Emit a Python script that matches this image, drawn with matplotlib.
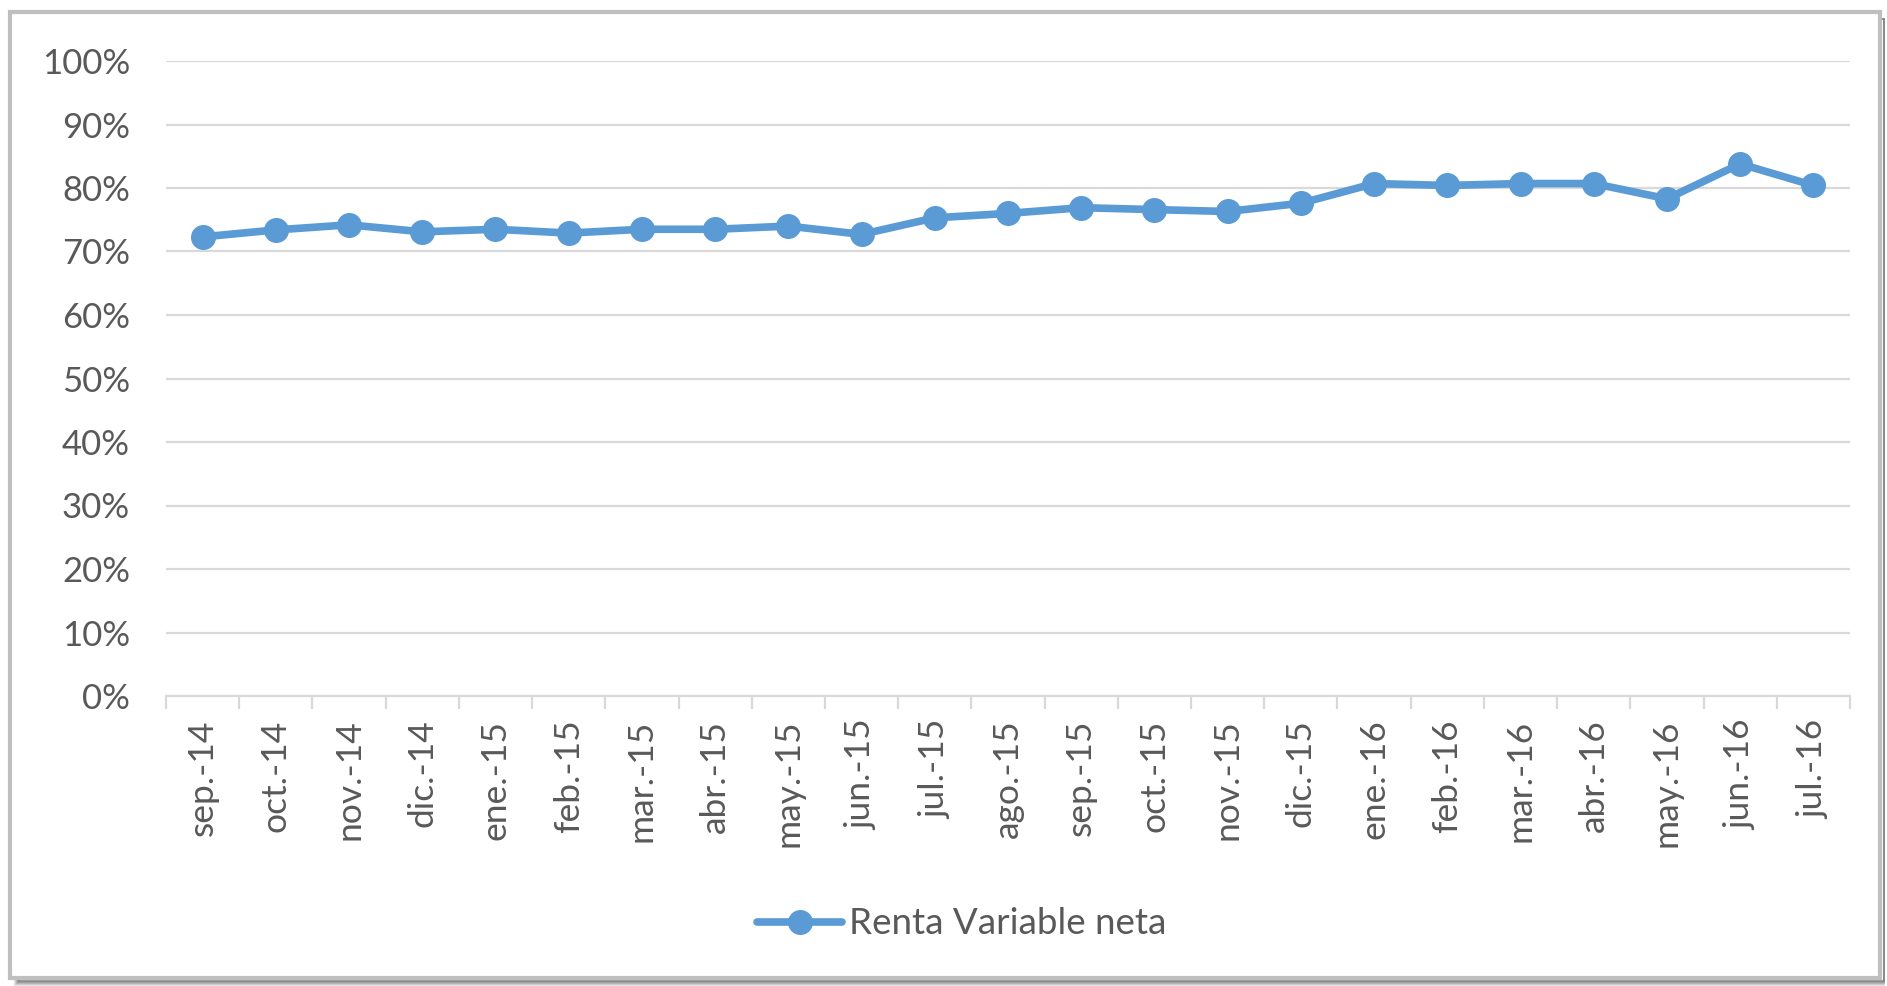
import numpy as np
import matplotlib
matplotlib.use('Agg')
import matplotlib.pyplot as plt
from matplotlib.patches import Rectangle
from matplotlib.ticker import FixedLocator, PercentFormatter

months = ['sep.-14', 'oct.-14', 'nov.-14', 'dic.-14', 'ene.-15', 'feb.-15',
          'mar.-15', 'abr.-15', 'may.-15', 'jun.-15', 'jul.-15', 'ago.-15',
          'sep.-15', 'oct.-15', 'nov.-15', 'dic.-15', 'ene.-16', 'feb.-16',
          'mar.-16', 'abr.-16', 'may.-16', 'jun.-16', 'jul.-16']
renta_variable = [72.3, 73.4, 74.2, 73.1, 73.5, 72.9, 73.5, 73.5, 74.0, 72.7,
                  75.3, 76.0, 76.9, 76.6, 76.3, 77.6, 80.7, 80.4, 80.7, 80.7,
                  78.3, 83.8, 80.4]
series_name = 'Renta Variable neta'
y_ticks = list(range(0, 101, 10))

plt.rcParams['font.family'] = ['Liberation Sans Narrow', 'Lato', 'DejaVu Sans']

W, H = 1887, 986
fig = plt.figure(figsize=(W / 100, H / 100), dpi=100)
fig.patch.set_facecolor('white')

# outer frame with a little shadow at bottom/right
for i, c in enumerate(['#e0e0e0', '#c8c8c8', '#b0b0b0', '#989898', '#888888']):
    fig.patches.append(Rectangle(((15 + i) / W, 1 - (985 - i) / H), (1869 - i) / W, (966 - i) / H,
                                 transform=fig.transFigure, facecolor='none',
                                 edgecolor=c, linewidth=1.2, zorder=-2))
fig.patches.append(Rectangle((10 / W, 1 - 978 / H), 1870 / W, 966 / H,
                             transform=fig.transFigure, facecolor='white',
                             edgecolor='#bfbfbf', linewidth=3, zorder=-1))

ax = fig.add_axes([166 / W, 1 - 696 / H, (1850 - 166) / W, (696 - 61) / H])
ax.set_zorder(1)
ax.patch.set_alpha(0)
x = np.arange(len(months))
ax.plot(x, renta_variable, color='#5b9bd5', linewidth=5.5, marker='o',
        markersize=17, markerfacecolor='#5b9bd5', markeredgecolor='#5b9bd5',
        label=series_name, zorder=3, solid_capstyle='round')

ax.set_xlim(-0.5, len(months) - 0.5)
ax.set_ylim(0, 100)
ax.set_yticks(y_ticks)
ax.yaxis.set_major_formatter(PercentFormatter(decimals=0))
ax.set_xticks(x)
ax.set_xticklabels(months, rotation=90)
ax.xaxis.set_minor_locator(FixedLocator(np.arange(-0.5, len(months), 1.0)))

ax.grid(axis='y', color='#d9d9d9', linewidth=1.6, zorder=0)
for side in ['top', 'right', 'left']:
    ax.spines[side].set_visible(False)
ax.spines['bottom'].set_color('#d9d9d9')
ax.spines['bottom'].set_linewidth(1.6)

ax.tick_params(axis='y', length=0, pad=26, labelsize=25, labelcolor='#595959')
ax.tick_params(axis='x', which='major', length=0, pad=17, labelsize=25.5,
               labelcolor='#595959')
ax.tick_params(axis='x', which='minor', length=9, width=1.6, color='#d9d9d9')

leg = fig.legend(loc='center', bbox_to_anchor=(962 / W, 1 - 924 / H),
                 frameon=False, fontsize=26.5, handlelength=2.3, handletextpad=0.2)
for t in leg.get_texts():
    t.set_color('#595959')

fig.savefig('out.png', dpi=100)
